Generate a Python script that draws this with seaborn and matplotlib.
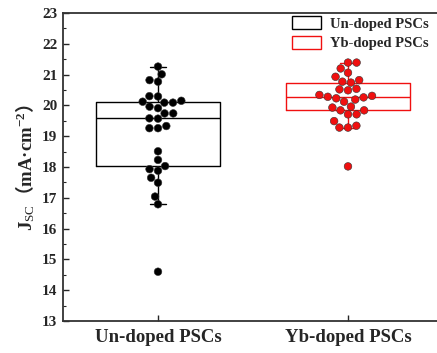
import numpy as np
import pandas as pd
import matplotlib
matplotlib.use("Agg")
import matplotlib.pyplot as plt
import seaborn as sns
from matplotlib.patches import Patch

categories = ["Un-doped PSCs", "Yb-doped PSCs"]
undoped_jsc = [21.26, 21.01, 20.77, 20.82, 20.30, 20.29, 20.09, 20.09, 20.12, 20.15,
               19.96, 19.91, 19.74, 19.74, 19.57, 19.58, 19.33, 19.26, 19.26,
               18.51, 18.23, 18.03, 17.88, 17.93, 17.65, 17.49, 17.04, 16.79, 14.60]
ybdoped_jsc = [21.39, 21.39, 21.20, 21.06, 20.93, 20.82, 20.77, 20.74, 20.54, 20.49,
               20.52, 20.34, 20.31, 20.23, 20.28, 20.26, 20.12, 20.19, 19.96, 19.93,
               19.84, 19.84, 19.71, 19.71, 19.49, 19.34, 19.28, 19.28, 18.02]
colors = ["#000000", "#f01010"]
yticks = list(range(13, 24))

df = pd.DataFrame({
    "group": [categories[0]] * len(undoped_jsc) + [categories[1]] * len(ybdoped_jsc),
    "jsc": undoped_jsc + ybdoped_jsc,
})
palette = dict(zip(categories, colors))

sns.set_style("ticks")
plt.rcParams["font.family"] = ["Liberation Serif", "Noto Sans CJK SC"]
plt.rcParams["mathtext.fontset"] = "custom"
plt.rcParams["mathtext.rm"] = "Liberation Serif"
plt.rcParams["mathtext.bf"] = "Liberation Serif:bold"
plt.rcParams["mathtext.it"] = "Liberation Serif:italic"
plt.rcParams["mathtext.sf"] = "Noto Sans CJK SC:bold"

fig = plt.figure(figsize=(4.37, 3.53), dpi=100)
ax = fig.add_axes([63 / 437, 32 / 353, 380 / 437, 308 / 353])

sns.boxplot(data=df, x="group", y="jsc", hue="group", palette=palette, order=categories,
            fill=False, width=0.65, linewidth=1.0, whis=1.5, legend=False, ax=ax,
            flierprops=dict(marker="x", markersize=3, markeredgewidth=0.6),
            capwidths=0.08)
sns.swarmplot(data=df, x="group", y="jsc", hue="group", palette=palette, order=categories,
              size=5.5, edgecolor="#333333", linewidth=0.4, legend=False, ax=ax)

ax.set_xlim(-0.5, 1.5)
ax.set_ylim(13, 23)
ax.set_yticks(yticks)
ax.set_yticklabels([str(t) for t in yticks], fontsize=11, fontweight="bold")
ax.set_yticks(np.arange(13.5, 23, 1.0), minor=True)
ax.set_xticks(range(len(categories)))
ax.set_xticklabels(categories, fontsize=13.5, fontweight="bold")
ax.tick_params(axis="y", which="major", direction="in", length=4, width=1, pad=4)
ax.tick_params(axis="y", which="minor", direction="in", length=2.5, width=0.8)
ax.tick_params(axis="x", direction="in", length=4, width=1, pad=6)
ax.set_xlabel("")
ax.set_ylabel(r"$\mathbf{J}_{\mathrm{SC}}\mathsf{（}\mathbf{mA·cm}^{\mathbf{-2}}\mathsf{）}$",
              fontsize=13.5, labelpad=4)
for side in ["left", "bottom", "top"]:
    ax.spines[side].set_linewidth(1.3)
    ax.spines[side].set_color("#333333")
ax.spines["right"].set_visible(False)

handles = [Patch(facecolor="white", edgecolor=c, linewidth=1.0, label=l)
           for c, l in zip(colors, categories)]
fig.legend(handles=handles, loc="upper left", bbox_to_anchor=(292 / 437, 1 - 16 / 353),
           frameon=False, borderpad=0, borderaxespad=0, handlelength=2.0,
           handleheight=1.0, handletextpad=0.6, labelspacing=0.35,
           prop={"family": "Liberation Serif", "weight": "bold", "size": 10.5})

fig.savefig("out.png", dpi=100)
